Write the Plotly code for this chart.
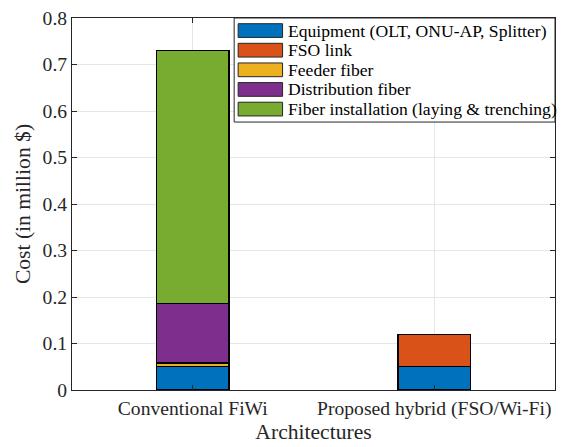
import plotly.graph_objects as go

categories = ["Conventional FiWi", "Proposed hybrid (FSO/Wi-Fi)"]
series_names = [
    "Equipment (OLT, ONU-AP, Splitter)",
    "FSO link",
    "Feeder fiber",
    "Distribution fiber",
    "Fiber installation (laying & trenching)",
]
equipment = [0.050, 0.050]
fso_link = [0.0, 0.070]
feeder_fiber = [0.008, 0.0]
distribution_fiber = [0.128, 0.0]
fiber_installation = [0.544, 0.0]
y_ticks = [0, 0.1, 0.2, 0.3, 0.4, 0.5, 0.6, 0.7, 0.8]

series_values = [equipment, fso_link, feeder_fiber, distribution_fiber, fiber_installation]
colors = ["#0072BD", "#D95319", "#EDB120", "#7E2F8E", "#77AC30"]

FONT = "Liberation Serif, Times New Roman, Times, serif"
AX = "#262626"

W, H = 564, 447
ML, MR, MT, MB = 72, 8, 11, 57
PW, PH = W - ML - MR, H - MT - MB


def px2x(px):
    return (px - ML) / PW


def py2y(py):
    return (H - MB - py) / PH


fig = go.Figure()
for name, vals, col in zip(series_names, series_values, colors):
    fig.add_trace(go.Bar(
        x=categories, y=vals, name=name, width=0.3,
        marker=dict(color=col, line=dict(color="black", width=1.2)),
        showlegend=False,
    ))

# custom legend box (MATLAB-style wide swatches)
shapes = []
annotations = []
lg_left, lg_right, lg_top, lg_bot = 234.5, 556, 11, 117
shapes.append(dict(type="rect", xref="paper", yref="paper",
                   x0=px2x(lg_left), x1=px2x(lg_right),
                   y0=py2y(lg_bot), y1=py2y(lg_top),
                   fillcolor="white", line=dict(color=AX, width=1), layer="above"))
for i, (name, col) in enumerate(zip(series_names, colors)):
    cy = 23.8 + 20 * i
    shapes.append(dict(type="rect", xref="paper", yref="paper",
                       x0=px2x(238.5), x1=px2x(283),
                       y0=py2y(cy + 7), y1=py2y(cy - 7),
                       fillcolor=col, line=dict(color=AX, width=1), layer="above"))
    annotations.append(dict(xref="paper", yref="paper", x=px2x(286), y=py2y(cy),
                            xanchor="left", yanchor="middle", showarrow=False,
                            text=name, font=dict(family=FONT, size=17.6, color="black")))

fig.update_layout(
    barmode="stack",
    width=W, height=H,
    margin=dict(l=ML, r=MR, t=MT, b=MB),
    plot_bgcolor="white", paper_bgcolor="white",
    font=dict(family=FONT, size=19.6, color=AX),
    showlegend=False,
    shapes=shapes,
    annotations=annotations,
    xaxis=dict(
        type="category", range=[-0.5, 1.5],
        showline=True, linecolor=AX, linewidth=1, mirror="ticks",
        ticks="inside", ticklen=5, tickcolor=AX,
        showgrid=True, gridcolor="#e6e6e6", gridwidth=1,
        title=dict(text="Architectures", standoff=2, font=dict(size=21.6)),
        tickfont=dict(size=19.6),
    ),
    yaxis=dict(
        range=[0, 0.8], tickvals=y_ticks,
        ticktext=[("%g" % v) for v in y_ticks],
        showline=True, linecolor=AX, linewidth=1, mirror="ticks",
        ticks="inside", ticklen=5, tickcolor=AX,
        showgrid=True, gridcolor="#e6e6e6", gridwidth=1,
        zeroline=False,
        title=dict(text="Cost (in million $)", standoff=6, font=dict(size=21.6)),
        tickfont=dict(size=19.6),
    ),
)

fig.write_html("out.html", config={"displayModeBar": False},
               post_script="document.body.style.margin='0';")
